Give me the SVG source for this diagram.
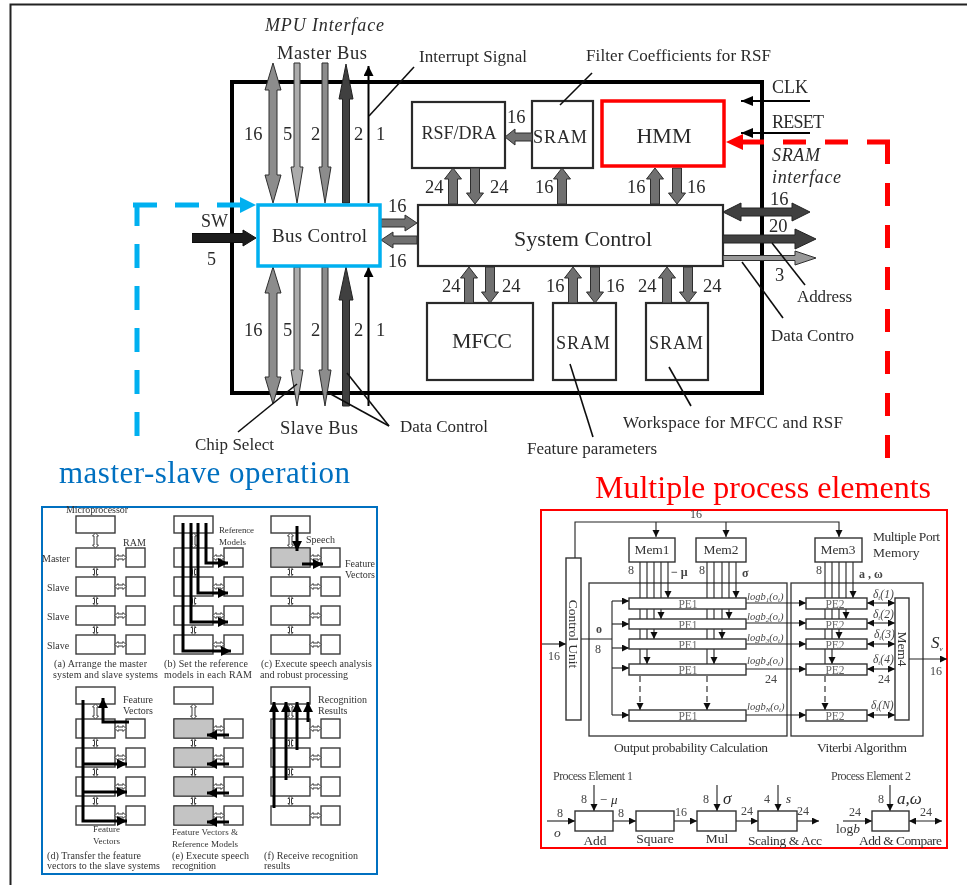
<svg xmlns="http://www.w3.org/2000/svg" xmlns:xlink="http://www.w3.org/1999/xlink" width="967" height="885" viewBox="0 0 967 885">
<style>
text{font-family:"Liberation Serif","Times New Roman",serif;fill:#2a2a2a}
.i{font-style:italic}
.c{text-anchor:middle}
.s13{font-size:13px}.s16{font-size:17px}.s17{font-size:18px}.s18{font-size:18.500px}.s19{font-size:18.200px}.s21{font-size:22px}
.box{fill:#fff;stroke:#2b2b2b;stroke-width:2.2}
.lead{fill:none;stroke:#111;stroke-width:1.6}
.bus{stroke:#2e2e2e;stroke-width:1}
.g1{fill:#8c8c8c}.g2{fill:#ababab}.g3{fill:#6f6f6f}.g4{fill:#3f3f3f;stroke:#222}.g5{fill:#1f1f1f;stroke:#111}
.thin{fill:none;stroke:#000;stroke-width:2}
.lp{fill:#fff;stroke:#3a3a3a;stroke-width:1.4}
.lk{fill:#fff;stroke:#3a3a3a;stroke-width:1}
.bk{fill:none;stroke:#000;stroke-width:3}
.lt{font-size:10px;fill:#333}
.ls{font-size:9px;fill:#333}
.rb{fill:#fff;stroke:#333;stroke-width:1.4}
.rl{fill:none;stroke:#222;stroke-width:1.1}
.rt{font-size:12px;fill:#444}
.rm{font-size:13.500px;fill:#333}
.pe{font-size:11.500px;fill:#666;text-anchor:middle}
.lg{font-size:10.500px;font-style:italic;fill:#444}
.dl{font-size:11.500px;font-style:italic;fill:#444}
.sub{font-size:7px}
</style>
<defs>
<filter id="b1" x="0" y="0" width="100%" height="100%"><feGaussianBlur stdDeviation="0.45"/></filter>
<filter id="b2" x="0" y="0" width="100%" height="100%"><feGaussianBlur stdDeviation="0.5"/></filter>
<filter id="b3" x="0" y="0" width="100%" height="100%"><feGaussianBlur stdDeviation="0.6"/></filter>
<marker id="mh" markerUnits="userSpaceOnUse" markerWidth="13" markerHeight="12" refX="12" refY="5" orient="auto"><path d="M0,0L12,5L0,10Z" fill="#000"/></marker>
<marker id="ml" markerUnits="userSpaceOnUse" markerWidth="11" markerHeight="11" refX="10" refY="5" orient="auto"><path d="M0,0L10,5L0,10Z" fill="#000"/></marker>
<marker id="mr" markerUnits="userSpaceOnUse" markerWidth="8" markerHeight="8" refX="7" refY="3.500" orient="auto"><path d="M0,0L7,3.500L0,7Z" fill="#111"/></marker>
<marker id="ms" markerUnits="userSpaceOnUse" markerWidth="8" markerHeight="8" refX="0" refY="3.500" orient="auto"><path d="M7,0L0,3.500L7,7Z" fill="#111"/></marker>
<path id="up" d="M0,0L8.500,11H4.500V36H-4.500V11H-8.500Z"/>
<path id="dvs" d="M0,0l-2.500,2.500h1.500v5h-1.500l2.500,2.500l2.500,-2.500h-1.500v-5h1.500z"/>
<path id="dvl" d="M0,0l-3,3h1.500v9h-1.500l3,3l3,-3h-1.500v-9h1.500z"/>
<path id="dh" d="M0,0l3,-3v1.500h5v-1.500l3,3l-3,3v-1.500h-5v1.500z"/>
<g id="stack">
<rect class="lp" x="0" y="0" width="39" height="17"/>
<rect class="lp" x="0" y="32" width="39" height="19"/><rect class="lp" x="0" y="61" width="39" height="19"/><rect class="lp" x="0" y="90" width="39" height="19"/><rect class="lp" x="0" y="119" width="39" height="19"/>
<rect class="lp" x="50" y="32" width="19" height="19"/><rect class="lp" x="50" y="61" width="19" height="19"/><rect class="lp" x="50" y="90" width="19" height="19"/><rect class="lp" x="50" y="119" width="19" height="19"/>
<use xlink:href="#dvl" href="#dvl" class="lk" x="19.500" y="17"/><use xlink:href="#dvs" href="#dvs" class="lk" x="19.500" y="51"/><use xlink:href="#dvs" href="#dvs" class="lk" x="19.500" y="80"/><use xlink:href="#dvs" href="#dvs" class="lk" x="19.500" y="109"/>
<use xlink:href="#dh" href="#dh" class="lk" x="39" y="41.500"/><use xlink:href="#dh" href="#dh" class="lk" x="39" y="70.500"/><use xlink:href="#dh" href="#dh" class="lk" x="39" y="99.500"/><use xlink:href="#dh" href="#dh" class="lk" x="39" y="128.500"/>
</g>
</defs>
<rect width="967" height="885" fill="#fff"/>
<path id="outer-frame" d="M10.500,885V4.500H967" fill="none" stroke="#222" stroke-width="2"/>

<g id="main-diagram" filter="url(#b1)">
<rect id="chip-outline" x="232" y="82" width="530" height="311" fill="#fff" stroke="#000" stroke-width="4"/>
<g id="node-rsf"><rect class="box" x="412" y="102" width="93" height="66"/><text class="c" font-size="18" x="459" y="139">RSF/DRA</text></g>
<g id="node-sram-filter"><rect class="box" x="532" y="101" width="61" height="67"/><text class="s19" x="533" y="143" textLength="54">SRAM</text></g>
<g id="node-system-control"><rect class="box" x="418" y="205" width="305" height="61"/><text class="s21" x="514" y="246" textLength="138">System Control</text></g>
<g id="node-mfcc"><rect class="box" x="427" y="303" width="106" height="77"/><text class="s21" x="452" y="348" textLength="60">MFCC</text></g>
<g id="node-sram-feature"><rect class="box" x="553" y="303" width="63" height="77"/><text class="s19" x="556" y="349" textLength="54">SRAM</text></g>
<g id="node-sram-work"><rect class="box" x="646" y="303" width="62" height="77"/><text class="s19" x="649" y="349" textLength="54">SRAM</text></g>

<g id="connectors">
<g class="bus">
<path class="g1" d="M273,63L281,90H277V175H281L273,203L265,175H269V90H265Z"/>
<path class="g2" d="M294,63H300V167H303L297,203L291,167H294Z"/>
<path class="g1" d="M322,63H328V167H331L325,203L319,167H322Z"/>
<path class="g4" d="M346,64L353,99H349.500V203H342.500V99H339Z"/>
<path class="g1" d="M273,267L281,293H277V377H281L273,404L265,377H269V293H265Z"/>
<path class="g2" d="M294,267H300V370H303L299,394L297,406L295,394L291,370H294Z"/>
<path class="g1" d="M322,267H328V370H331L327,394L325,406L323,394L319,370H322Z"/>
<path class="g4" d="M346,267L353,300H349.500V406H342.500V300H339Z"/>
<g class="g3">
<use xlink:href="#up" href="#up" x="453" y="168"/>
<use xlink:href="#up" href="#up" transform="translate(475,204) scale(1,-1)"/>
<use xlink:href="#up" href="#up" x="562" y="168"/>
<use xlink:href="#up" href="#up" x="655" y="168"/>
<use xlink:href="#up" href="#up" transform="translate(677,204) scale(1,-1)"/>
<use xlink:href="#up" href="#up" x="469" y="267"/>
<use xlink:href="#up" href="#up" transform="translate(490,303) scale(1,-1)"/>
<use xlink:href="#up" href="#up" x="573" y="267"/>
<use xlink:href="#up" href="#up" transform="translate(595,303) scale(1,-1)"/>
<use xlink:href="#up" href="#up" x="667" y="267"/>
<use xlink:href="#up" href="#up" transform="translate(688,303) scale(1,-1)"/>
<path d="M505,137L515,129V133H532V141H515V145Z"/>
<path d="M417,223L405,215V219H381V227H405V231Z"/>
<path d="M381,240L393,232V236H417V244H393V248Z"/>
</g>
<path class="g5" d="M192,233.500H243V230L256,238L243,246V242.500H192Z"/>
<path class="g4" d="M723,212L741,203V208H792V203L810,212L792,221V216H741V221Z"/>
<path class="g4" d="M723,235H795V229L816,239L795,249V243H723Z"/>
<path class="g1" style="fill:#999" d="M723,255.500H795V251L816,258L795,265V260.500H723Z"/>
</g>
<path class="thin" d="M368.500,203V66" marker-end="url(#ml)"/>
<path class="thin" d="M368.500,406V267" marker-end="url(#ml)"/>
<path class="thin" d="M810,101H741" marker-end="url(#mh)"/>
<path class="thin" d="M810,133H741" marker-end="url(#mh)"/>
<path class="lead" d="M369,116L414,67"/>
<path class="lead" d="M560,105L592,73"/>
<path class="lead" d="M238,432L297,384"/>
<path class="lead" d="M389,426L327,392"/>
<path class="lead" d="M389,426L347,373"/>
<path class="lead" d="M570,364L593,437"/>
<path class="lead" d="M669,367L691,406"/>
<path class="lead" d="M742,262L783,318"/>
<path class="lead" d="M772,243L805,285"/>
</g>

<g id="labels">
<text class="i s17" x="265" y="31" textLength="119">MPU Interface</text>
<text class="s18" x="277" y="59" textLength="90">Master Bus</text>
<text class="s16" x="419" y="62" textLength="108">Interrupt Signal</text>
<text class="s16" x="586" y="61" textLength="185">Filter Coefficients for RSF</text>
<text class="s18" x="507" y="123">16</text>
<text class="s17" x="772" y="93">CLK</text>
<text class="s17" x="772" y="128" textLength="52">RESET</text>
<text class="i s17" x="772" y="161" textLength="48">SRAM</text>
<text class="i s17" x="772" y="183" textLength="69">interface</text>
<text class="s18" x="770" y="205">16</text>
<text class="s18" x="769" y="232">20</text>
<text class="s18" x="775" y="281">3</text>
<g class="s18">
<text x="244" y="140">16</text><text x="283" y="140">5</text><text x="311" y="140">2</text><text x="354" y="140">2</text><text x="376" y="140">1</text>
<text x="244" y="336">16</text><text x="283" y="336">5</text><text x="311" y="336">2</text><text x="354" y="336">2</text><text x="376" y="336">1</text>
<text x="388" y="212">16</text><text x="388" y="267">16</text>
<text x="425" y="193">24</text><text x="490" y="193">24</text><text x="535" y="193">16</text><text x="627" y="193">16</text><text x="687" y="193">16</text>
<text x="442" y="292">24</text><text x="502" y="292">24</text><text x="546" y="292">16</text><text x="606" y="292">16</text><text x="638" y="292">24</text><text x="703" y="292">24</text>
</g>
<text class="s17" x="201" y="227">SW</text>
<text class="s17" x="207" y="265">5</text>
<text class="s16" x="797" y="302" textLength="55">Address</text>
<text class="s16" x="771" y="341" textLength="83">Data Contro</text>
<text class="s16" x="623" y="428" textLength="220">Workspace for MFCC and RSF</text>
<text class="s16" x="527" y="454" textLength="130">Feature parameters</text>
<text class="s16" x="195" y="450" textLength="79">Chip Select</text>
<text class="s18" x="280" y="434" textLength="78">Slave Bus</text>
<text class="s16" x="400" y="432" textLength="88">Data Control</text>
</g>
</g>

<g id="node-bus-control"><rect x="258" y="205" width="122" height="61" fill="#fff" stroke="#00b0f0" stroke-width="3.500"/><text x="272" y="242" font-size="19" textLength="95" filter="url(#b1)">Bus Control</text></g>
<g id="node-hmm"><rect x="602" y="101" width="122" height="65" fill="#fff" stroke="#f00" stroke-width="3.500"/><text class="s21 c" x="664" y="143" filter="url(#b1)">HMM</text></g>

<g id="highlight-connectors" fill="none">
<path d="M133,205H240" stroke="#00b0f0" stroke-width="5" stroke-dasharray="24 18"/>
<path d="M137,436V203" stroke="#00b0f0" stroke-width="5" stroke-dasharray="24 18"/>
<path d="M256,205L240,197V213Z" fill="#00b0f0"/>
<path d="M890,142H742" stroke="#f00" stroke-width="5" stroke-dasharray="23 19"/>
<path d="M887.500,458V141" stroke="#f00" stroke-width="5" stroke-dasharray="23 19"/>
<path d="M726,142L743,134V150Z" fill="#f00"/>
</g>

<text id="title-left" x="59" y="483" font-size="31" textLength="291" style="fill:#0070c0">master-slave operation</text>
<text id="title-right" x="595" y="498" font-size="32" textLength="336" style="fill:#f00">Multiple process elements</text>

<rect id="panel-left" x="42" y="507" width="335" height="367" fill="#fff" stroke="#0070c0" stroke-width="2"/>
<rect id="panel-right" x="541" y="510" width="406" height="338" fill="#fff" stroke="#f00" stroke-width="2"/>

<g id="left-figure" filter="url(#b3)">
<g id="col-a-top"><use xlink:href="#stack" href="#stack" x="76" y="516"/></g>
<g id="col-b-top"><use xlink:href="#stack" href="#stack" x="174" y="516"/></g>
<g id="col-c-top"><use xlink:href="#stack" href="#stack" x="271" y="516"/><rect x="271" y="548" width="39" height="19" fill="#c4c4c4" stroke="#3a3a3a"/></g>
<g id="col-d-bottom"><use xlink:href="#stack" href="#stack" x="76" y="687"/></g>
<g id="col-e-bottom"><use xlink:href="#stack" href="#stack" x="174" y="687"/><g fill="#c4c4c4" stroke="#3a3a3a"><rect x="174" y="719" width="39" height="19"/><rect x="174" y="748" width="39" height="19"/><rect x="174" y="777" width="39" height="19"/><rect x="174" y="806" width="39" height="19"/></g></g>
<g id="col-f-bottom"><use xlink:href="#stack" href="#stack" x="271" y="687"/></g>
<g id="left-connectors">
<path class="bk" d="M206,523V563H228" marker-end="url(#ml)"/>
<path class="bk" d="M198,523V593H228" marker-end="url(#ml)"/>
<path class="bk" d="M191,523V622H228" marker-end="url(#ml)"/>
<path class="bk" d="M183,523V651H231" marker-end="url(#ml)"/>
<path class="bk" d="M297,526V551" marker-end="url(#ml)"/>
<path class="bk" d="M302,564H323" marker-end="url(#ml)"/>
<path class="bk" d="M83,700V821H127" marker-end="url(#ml)"/>
<path class="bk" d="M83,764H127" marker-end="url(#ml)"/>
<path class="bk" d="M83,792H127" marker-end="url(#ml)"/>
<path class="bk" d="M129,722H103V698" marker-end="url(#ml)"/>
<path class="bk" d="M229,735H207" marker-end="url(#ml)"/>
<path class="bk" d="M229,764H207" marker-end="url(#ml)"/>
<path class="bk" d="M229,793H207" marker-end="url(#ml)"/>
<path class="bk" d="M229,822H207" marker-end="url(#ml)"/>
<path class="bk" d="M274,808V702" marker-end="url(#ml)"/>
<path class="bk" d="M286,780V702" marker-end="url(#ml)"/>
<path class="bk" d="M297,750V702" marker-end="url(#ml)"/>
<path class="bk" d="M308,722V702" marker-end="url(#ml)"/>
</g>
<g id="left-labels">
<text class="lt" x="66" y="513" textLength="62">Microprocessor</text>
<text class="lt" x="123" y="546">RAM</text>
<text class="lt" x="42" y="562">Master</text>
<text class="lt" x="47" y="591">Slave</text><text class="lt" x="47" y="620">Slave</text><text class="lt" x="47" y="649">Slave</text>
<text class="ls" x="219" y="533" textLength="35">Reference</text><text class="ls" x="219" y="545">Models</text>
<text class="lt" x="306" y="543">Speech</text>
<text class="lt" x="345" y="567">Feature</text><text class="lt" x="345" y="578">Vectors</text>
<text class="lt" x="54" y="667" textLength="93">(a) Arrange the master</text>
<text class="lt" x="53" y="678" textLength="105">system and slave systems</text>
<text class="lt" x="164" y="667" textLength="84">(b) Set the reference</text>
<text class="lt" x="164" y="678" textLength="88">models in each RAM</text>
<text class="lt" x="261" y="667" textLength="111">(c) Execute speech analysis</text>
<text class="lt" x="260" y="678" textLength="88">and robust processing</text>
<text class="lt" x="123" y="703">Feature</text><text class="lt" x="123" y="714">Vectors</text>
<text class="ls" x="93" y="832">Feature</text><text class="ls" x="93" y="844">Vectors</text>
<text class="ls" x="172" y="835" textLength="66">Feature Vectors &amp;</text>
<text class="ls" x="172" y="847" textLength="66">Reference Models</text>
<text class="lt" x="318" y="703" textLength="49">Recognition</text><text class="lt" x="318" y="714">Results</text>
<text class="lt" x="47" y="859" textLength="94">(d) Transfer the feature</text>
<text class="lt" x="47" y="869" textLength="113">vectors to the slave systems</text>
<text class="lt" x="172" y="859" textLength="77">(e) Execute speech</text>
<text class="lt" x="172" y="869" textLength="44">recognition</text>
<text class="lt" x="264" y="859" textLength="94">(f) Receive recognition</text>
<text class="lt" x="264" y="869">results</text>
</g>
</g>

<g id="right-figure" filter="url(#b2)">
<rect x="589" y="583" width="198" height="153" fill="none" stroke="#333" stroke-width="1.300"/>
<rect x="791" y="583" width="132" height="153" fill="none" stroke="#333" stroke-width="1.300"/>
<g id="right-connectors">
<path class="rl" d="M575,558V522H839V537" marker-end="url(#mr)"/>
<path class="rl" d="M656,522V537" marker-end="url(#mr)"/>
<path class="rl" d="M726,522V537" marker-end="url(#mr)"/>
<path class="rl" d="M542,644H566" marker-end="url(#mr)"/>
<path class="rl" d="M581,639H612M612,601V715"/>
<path class="rl" d="M612,601H629" marker-end="url(#mr)"/>
<path class="rl" d="M612,624H629" marker-end="url(#mr)"/>
<path class="rl" d="M612,648H629" marker-end="url(#mr)"/>
<path class="rl" d="M612,668H629" marker-end="url(#mr)"/>
<path class="rl" d="M612,715H629" marker-end="url(#mr)"/>
<path class="rl" d="M668,562V598" marker-end="url(#mr)"/>
<path class="rl" d="M661,562V619" marker-end="url(#mr)"/>
<path class="rl" d="M654,562V639" marker-end="url(#mr)"/>
<path class="rl" d="M647,562V664" marker-end="url(#mr)"/>
<path class="rl" d="M640,562V664"/>
<path class="rl" d="M640,676V710" stroke-dasharray="6 4" marker-end="url(#mr)"/>
<path class="rl" d="M736,562V598" marker-end="url(#mr)"/>
<path class="rl" d="M729,562V619" marker-end="url(#mr)"/>
<path class="rl" d="M722,562V639" marker-end="url(#mr)"/>
<path class="rl" d="M714,562V664" marker-end="url(#mr)"/>
<path class="rl" d="M707,562V664"/>
<path class="rl" d="M707,676V710" stroke-dasharray="6 4" marker-end="url(#mr)"/>
<path class="rl" d="M853,562V598" marker-end="url(#mr)"/>
<path class="rl" d="M846,562V619" marker-end="url(#mr)"/>
<path class="rl" d="M839,562V639" marker-end="url(#mr)"/>
<path class="rl" d="M832,562V664" marker-end="url(#mr)"/>
<path class="rl" d="M825,562V664"/>
<path class="rl" d="M825,676V710" stroke-dasharray="6 4" marker-end="url(#mr)"/>
<path class="rl" d="M746,603H806" marker-end="url(#mr)"/>
<path class="rl" d="M746,623H806" marker-end="url(#mr)"/>
<path class="rl" d="M746,644H806" marker-end="url(#mr)"/>
<path class="rl" d="M746,669H806" marker-end="url(#mr)"/>
<path class="rl" d="M746,715H806" marker-end="url(#mr)"/>
<path class="rl" d="M867,603H895" marker-start="url(#ms)" marker-end="url(#mr)"/>
<path class="rl" d="M867,623H895" marker-start="url(#ms)" marker-end="url(#mr)"/>
<path class="rl" d="M867,644H895" marker-start="url(#ms)" marker-end="url(#mr)"/>
<path class="rl" d="M867,669H895" marker-start="url(#ms)" marker-end="url(#mr)"/>
<path class="rl" d="M867,715H895" marker-start="url(#ms)" marker-end="url(#mr)"/>
<path class="rl" d="M909,659H947" marker-end="url(#mr)"/>
<path class="rl" d="M547,821H575" marker-end="url(#mr)"/>
<path class="rl" d="M613,821H636" marker-end="url(#mr)"/>
<path class="rl" d="M674,821H697" marker-end="url(#mr)"/>
<path class="rl" d="M736,821H758" marker-end="url(#mr)"/>
<path class="rl" d="M797,821H819" marker-end="url(#mr)"/>
<path class="rl" d="M843,821H872" marker-end="url(#mr)"/>
<path class="rl" d="M909,821H942" marker-start="url(#ms)" marker-end="url(#mr)"/>
<path class="rl" d="M594,785V811" marker-end="url(#mr)"/>
<path class="rl" d="M717,785V811" marker-end="url(#mr)"/>
<path class="rl" d="M778,785V811" marker-end="url(#mr)"/>
<path class="rl" d="M890,785V811" marker-end="url(#mr)"/>
</g>
<g id="node-control-unit"><rect class="rb" x="566" y="558" width="15" height="162"/><text class="rm c" transform="translate(569,634) rotate(90)">Control Unit</text></g>
<g id="node-mem1"><rect class="rb" x="629" y="538" width="46" height="24"/><text class="rm c" x="652" y="554">Mem1</text></g>
<g id="node-mem2"><rect class="rb" x="696" y="538" width="50" height="24"/><text class="rm c" x="721" y="554">Mem2</text></g>
<g id="node-mem3"><rect class="rb" x="815" y="538" width="47" height="24"/><text class="rm c" x="838" y="554">Mem3</text></g>
<g id="node-mem4"><rect class="rb" x="895" y="598" width="14" height="122"/><text class="rm c" transform="translate(898,649) rotate(90)">Mem4</text></g>
<g id="node-pe1-1"><rect class="rb" x="629" y="598" width="117" height="11"/><text class="pe" x="688" y="608">PE1</text></g>
<g id="node-pe1-2"><rect class="rb" x="629" y="619" width="117" height="10"/><text class="pe" x="688" y="629">PE1</text></g>
<g id="node-pe1-3"><rect class="rb" x="629" y="639" width="117" height="10"/><text class="pe" x="688" y="649">PE1</text></g>
<g id="node-pe1-4"><rect class="rb" x="629" y="664" width="117" height="11"/><text class="pe" x="688" y="674">PE1</text></g>
<g id="node-pe1-5"><rect class="rb" x="629" y="710" width="117" height="11"/><text class="pe" x="688" y="720">PE1</text></g>
<g id="node-pe2-1"><rect class="rb" x="806" y="598" width="61" height="11"/><text class="pe" x="835" y="608">PE2</text></g>
<g id="node-pe2-2"><rect class="rb" x="806" y="619" width="61" height="10"/><text class="pe" x="835" y="629">PE2</text></g>
<g id="node-pe2-3"><rect class="rb" x="806" y="639" width="61" height="10"/><text class="pe" x="835" y="649">PE2</text></g>
<g id="node-pe2-4"><rect class="rb" x="806" y="664" width="61" height="11"/><text class="pe" x="835" y="674">PE2</text></g>
<g id="node-pe2-5"><rect class="rb" x="806" y="710" width="61" height="11"/><text class="pe" x="835" y="720">PE2</text></g>
<g id="node-add"><rect class="rb" x="575" y="811" width="38" height="20"/></g>
<g id="node-square"><rect class="rb" x="636" y="811" width="38" height="20"/></g>
<g id="node-mul"><rect class="rb" x="697" y="811" width="39" height="20"/></g>
<g id="node-scaling"><rect class="rb" x="758" y="811" width="39" height="20"/></g>
<g id="node-compare"><rect class="rb" x="872" y="811" width="37" height="20"/></g>
<g id="right-labels">
<text class="rt c" x="696" y="518">16</text>
<text class="rt" x="628" y="574">8</text><text class="rt" x="699" y="574">8</text><text class="rt" x="816" y="574">8</text>
<text class="rt" x="671" y="576" style="font-weight:bold">− μ</text>
<text class="rt" x="742" y="577" style="font-weight:bold">σ</text>
<text class="rt" x="859" y="578" style="font-weight:bold">a , ω</text>
<text class="rt" x="596" y="633" style="font-weight:bold">o</text>
<text class="rt" x="595" y="653">8</text>
<text class="rt" x="548" y="660">16</text>
<text class="lg" x="747" y="600">logb<tspan class="sub" dy="2">1</tspan><tspan dy="-2">(o</tspan><tspan class="sub" dy="2">t</tspan><tspan dy="-2">)</tspan></text>
<text class="lg" x="747" y="620">logb<tspan class="sub" dy="2">2</tspan><tspan dy="-2">(o</tspan><tspan class="sub" dy="2">t</tspan><tspan dy="-2">)</tspan></text>
<text class="lg" x="747" y="641">logb<tspan class="sub" dy="2">3</tspan><tspan dy="-2">(o</tspan><tspan class="sub" dy="2">t</tspan><tspan dy="-2">)</tspan></text>
<text class="lg" x="747" y="664">logb<tspan class="sub" dy="2">4</tspan><tspan dy="-2">(o</tspan><tspan class="sub" dy="2">t</tspan><tspan dy="-2">)</tspan></text>
<text class="lg" x="747" y="710">logb<tspan class="sub" dy="2">N</tspan><tspan dy="-2">(o</tspan><tspan class="sub" dy="2">t</tspan><tspan dy="-2">)</tspan></text>
<text class="dl" x="873" y="598">δ<tspan class="sub" dy="2">t</tspan><tspan dy="-2">(1)</tspan></text>
<text class="dl" x="873" y="618">δ<tspan class="sub" dy="2">t</tspan><tspan dy="-2">(2)</tspan></text>
<text class="dl" x="874" y="638">δ<tspan class="sub" dy="2">t</tspan><tspan dy="-2">(3)</tspan></text>
<text class="dl" x="873" y="663">δ<tspan class="sub" dy="2">t</tspan><tspan dy="-2">(4)</tspan></text>
<text class="dl" x="871" y="709">δ<tspan class="sub" dy="2">t</tspan><tspan dy="-2">(N)</tspan></text>
<text class="rt" x="765" y="683">24</text><text class="rt" x="878" y="683">24</text>
<text class="i s16" x="931" y="648">S<tspan class="sub" dy="3">v</tspan></text>
<text class="rt" x="930" y="675">16</text>
<text class="rm" x="873" y="541" textLength="67">Multiple Port</text>
<text class="rm" x="873" y="557">Memory</text>
<text class="rm" x="614" y="752" textLength="154">Output probability Calculation</text>
<text class="rm" x="817" y="752" textLength="90">Viterbi Algorithm</text>
<text class="rt" x="553" y="780" textLength="80">Process Element 1</text>
<text class="rt" x="831" y="780" textLength="80">Process Element 2</text>
<text class="rt" x="557" y="817">8</text><text class="rm i" x="554" y="837">o</text>
<text class="rt" x="581" y="803">8</text><text class="i s13" x="599" y="804">− μ</text>
<text class="rt" x="618" y="817">8</text><text class="rt" x="675" y="816">16</text>
<text class="rt" x="703" y="803">8</text><text class="i s16" x="723" y="804">σ</text>
<text class="rt" x="741" y="815">24</text>
<text class="rt" x="764" y="803">4</text><text class="i s13" x="786" y="803">s</text>
<text class="rt" x="797" y="815">24</text>
<text class="rt" x="849" y="816">24</text>
<text class="rm" x="836" y="833">log<tspan class="i">b</tspan></text>
<text class="rt" x="878" y="803">8</text><text class="i s16" x="897" y="804">a,ω</text>
<text class="rt" x="920" y="816">24</text>
<text class="rm c" x="595" y="845">Add</text>
<text class="rm c" x="655" y="843">Square</text>
<text class="rm c" x="717" y="843">Mul</text>
<text class="rm" x="748" y="845" textLength="74">Scaling &amp; Acc</text>
<text class="rm" x="859" y="845" textLength="83">Add &amp; Compare</text>
</g>
</g>
</svg>
